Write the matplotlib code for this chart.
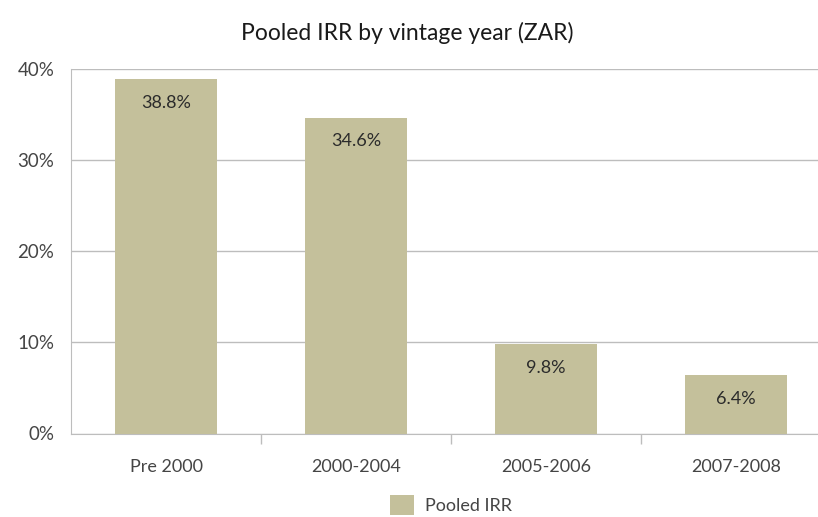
import matplotlib
matplotlib.use("Agg")
import matplotlib.pyplot as plt
from matplotlib.ticker import FixedLocator
from matplotlib.patches import Patch

categories = ["Pre 2000", "2000-2004", "2005-2006", "2007-2008"]
values = [38.8, 34.6, 9.8, 6.4]
value_labels = ["38.8%", "34.6%", "9.8%", "6.4%"]
yticks = [0, 10, 20, 30, 40]
ytick_labels = ["0%", "10%", "20%", "30%", "40%"]
series_name = "Pooled IRR"
title = "Pooled IRR by vintage year (ZAR)"

plt.rcParams['font.family'] = ['Lato', 'DejaVu Sans']
bar_color = "#c4c09b"
grid_color = "#bdbdbd"
text_color = "#454545"

fig = plt.figure(figsize=(8.18, 5.17), dpi=100)
ax = fig.add_axes([71/818, 1-433.5/517, 760/818, (433.5-68.5)/517])

x = list(range(len(categories)))
ax.bar(x, values, width=0.535, color=bar_color, zorder=3)
for xi, v, lab in zip(x, values, value_labels):
    ax.text(xi, v - 2.6, lab, ha="center", va="center", fontsize=13,
            color="#2b2b2b", zorder=4)

ax.set_xlim(-0.5, len(categories) - 0.5)
ax.set_ylim(0, 40)
ax.set_yticks(yticks)
ax.set_yticklabels(ytick_labels, fontsize=13.5, color=text_color)
ax.set_xticks(x)
ax.set_xticklabels(categories, fontsize=13, color=text_color)
ax.tick_params(axis="x", which="major", length=0, pad=18)
ax.tick_params(axis="y", length=0, pad=12)
ax.xaxis.set_minor_locator(FixedLocator([i + 0.5 for i in x[:-1]]))
ax.tick_params(axis="x", which="minor", length=7, width=1, color=grid_color, direction="out")

ax.yaxis.grid(True, color=grid_color, linewidth=1, zorder=0)
for s in ["top", "right"]:
    ax.spines[s].set_visible(False)
ax.spines["left"].set_color(grid_color)
ax.spines["bottom"].set_color(grid_color)

fig.text(407/818, 1-33/517, title, ha="center", va="center", fontsize=16.5, color="#1a1a1a")

handle = Patch(facecolor=bar_color, edgecolor="none")
fig.legend([handle], [series_name], loc="center", bbox_to_anchor=(451/818, 1-505/517),
           frameon=False, handlelength=1.3, handleheight=1.3,
           handletextpad=0.6, labelcolor=text_color, prop={'size': 13})

fig.savefig("out.png", dpi=100)
